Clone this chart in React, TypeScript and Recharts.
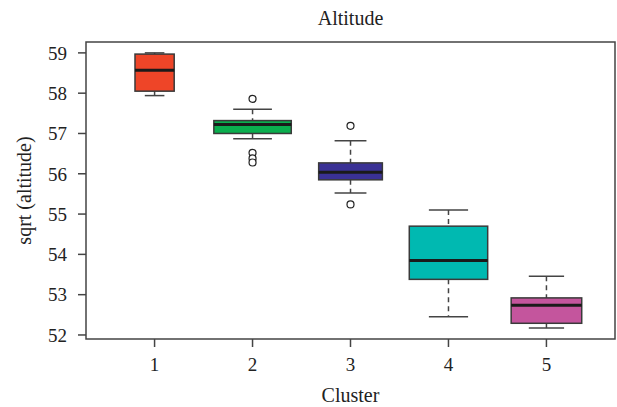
import { FC } from 'react';
import {
	ComposedChart,
	Bar,
	Scatter,
	XAxis,
	YAxis,
	ReferenceArea,
} from 'recharts';

// one entry per cluster
const clusters = [1, 2, 3, 4, 5];
const lowerWhisker = [57.94, 56.87, 55.52, 52.45, 52.17];
const q1 = [58.05, 57.0, 55.85, 53.38, 52.29];
const median = [58.57, 57.22, 56.04, 53.85, 52.74];
const q3 = [58.97, 57.32, 56.27, 54.7, 52.92];
const upperWhisker = [59.0, 57.6, 56.82, 55.1, 53.46];
// varwidth boxes, relative to the slot between clusters
const relWidth = [0.4, 0.79, 0.65, 0.8, 0.72];
const fills = ['#EE4528', '#0AAE4E', '#3A3195', '#00B9B1', '#C4559D'];

const outlierCluster = [2, 2, 2, 2, 3, 3];
const outlierValue = [57.86, 56.52, 56.38, 56.28, 57.19, 55.24];

const yTicks = [52, 53, 54, 55, 56, 57, 58, 59];
const xDomain: [number, number] = [0.3, 5.7];
const yDomain: [number, number] = [51.9, 59.27];

const boxData = clusters.map((c, i) => ({
	cluster: c,
	lower: lowerWhisker[i],
	q1: q1[i],
	median: median[i],
	q3: q3[i],
	upper: upperWhisker[i],
	rel: relWidth[i],
	fill: fills[i],
}));

const outliers = outlierCluster.map((c, i) => ({
	cluster: c,
	value: outlierValue[i],
}));

const FONT = '"Liberation Serif", "Times New Roman", serif';
const INK = '#222';
const LINE = '#444';

const BoxShape = (props: any) => {
	const { x, width, payload } = props;
	let { y, height } = props;
	if (height < 0) {
		y = y + height;
		height = -height;
	}
	const p = payload;
	const perUnit = height / (p.upper - p.lower || 1);
	const yOf = (v: number) => y + (p.upper - v) * perUnit;
	const cx = x + width / 2;
	const boxW = width * p.rel;
	const capW = boxW / 2;

	return (
		<g>
			<line
				x1={cx}
				x2={cx}
				y1={yOf(p.upper)}
				y2={yOf(p.q3)}
				stroke={LINE}
				strokeWidth={1.5}
				strokeDasharray="5 4"
			/>
			<line
				x1={cx}
				x2={cx}
				y1={yOf(p.q1)}
				y2={yOf(p.lower)}
				stroke={LINE}
				strokeWidth={1.5}
				strokeDasharray="5 4"
			/>
			<line
				x1={cx - capW / 2}
				x2={cx + capW / 2}
				y1={yOf(p.upper)}
				y2={yOf(p.upper)}
				stroke={LINE}
				strokeWidth={1.5}
			/>
			<line
				x1={cx - capW / 2}
				x2={cx + capW / 2}
				y1={yOf(p.lower)}
				y2={yOf(p.lower)}
				stroke={LINE}
				strokeWidth={1.5}
			/>
			<rect
				x={cx - boxW / 2}
				y={yOf(p.q3)}
				width={boxW}
				height={yOf(p.q1) - yOf(p.q3)}
				fill={p.fill}
				stroke="#3a3a3a"
				strokeWidth={1.5}
			/>
			<line
				x1={cx - boxW / 2}
				x2={cx + boxW / 2}
				y1={yOf(p.median)}
				y2={yOf(p.median)}
				stroke="#1a1a1a"
				strokeWidth={3}
			/>
		</g>
	);
};

const OutlierShape = (props: any) => (
	<circle
		cx={props.cx}
		cy={props.cy}
		r={3.5}
		fill="#fff"
		stroke={INK}
		strokeWidth={1.2}
	/>
);

const App: FC = () => {
	return (
		<div style={{ position: 'relative', width: 617, height: 407, fontFamily: FONT }}>
			<style>{'body{margin:0}'}</style>
			<div
				style={{
					position: 'absolute',
					top: 8,
					left: 86,
					width: 529,
					textAlign: 'center',
					fontSize: 20,
					lineHeight: '20px',
					color: INK,
				}}>
				Altitude
			</div>
			<ComposedChart
				width={617}
				height={407}
				data={boxData}
				barCategoryGap={0}
				barGap={0}
				margin={{ top: 42, right: 2, bottom: 0, left: 0 }}>
				<ReferenceArea
					x1={xDomain[0]}
					x2={xDomain[1]}
					y1={yDomain[0]}
					y2={yDomain[1]}
					fill="none"
					fillOpacity={0}
					stroke={LINE}
					strokeWidth={1.5}
				/>
				<XAxis
					type="number"
					dataKey="cluster"
					domain={xDomain}
					ticks={clusters}
					allowDataOverflow
					height={68}
					axisLine={false}
					tickSize={8}
					tickMargin={11}
					tickLine={{ stroke: LINE, strokeWidth: 1.5 }}
					tick={{ fill: INK, fontSize: 19, fontFamily: FONT }}
					label={{
						value: 'Cluster',
						position: 'insideBottom',
						offset: 5,
						fill: INK,
						fontSize: 20,
						fontFamily: FONT,
					}}
				/>
				<YAxis
					type="number"
					domain={yDomain}
					ticks={yTicks}
					allowDataOverflow
					width={86}
					axisLine={false}
					tickSize={8}
					tickMargin={11}
					tickLine={{ stroke: LINE, strokeWidth: 1.5 }}
					tick={{ fill: INK, fontSize: 19, fontFamily: FONT }}
					label={{
						value: 'sqrt (altitude)',
						angle: -90,
						position: 'insideLeft',
						offset: 24,
						fill: INK,
						fontSize: 20,
						fontFamily: FONT,
						style: { textAnchor: 'middle' },
					}}
				/>
				<Bar
					dataKey={(d: any) => [d.lower, d.upper]}
					shape={BoxShape}
					isAnimationActive={false}
				/>
				<Scatter
					data={outliers}
					dataKey="value"
					shape={OutlierShape}
					isAnimationActive={false}
				/>
			</ComposedChart>
		</div>
	);
};

export default App;
